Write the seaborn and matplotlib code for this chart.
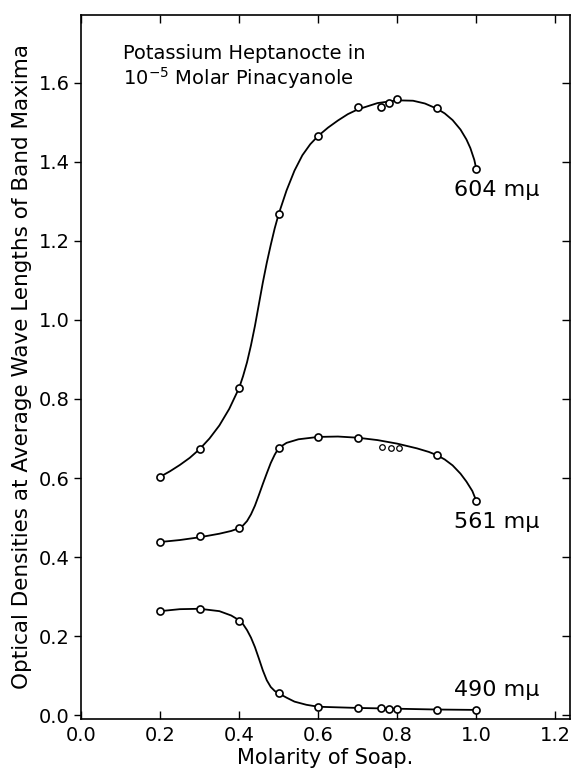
import matplotlib
matplotlib.use("Agg")
import matplotlib.pyplot as plt
import seaborn as sns
import pandas as pd

x_pts = [0.2, 0.3, 0.4, 0.5, 0.6, 0.7, 0.76, 0.78, 0.8, 0.9, 1.0]
y604_pts = [0.603, 0.673, 0.828, 1.268, 1.466, 1.540, 1.540, 1.549, 1.559, 1.537, 1.382]
x561_pts = [0.2, 0.3, 0.4, 0.5, 0.6, 0.7, 0.9, 1.0]
y561_pts = [0.438, 0.453, 0.473, 0.676, 0.704, 0.701, 0.658, 0.542]
x561_off = [0.761, 0.784, 0.805]
y561_off = [0.678, 0.677, 0.676]
y490_pts = [0.263, 0.268, 0.238, 0.056, 0.020, 0.018, 0.017, 0.016, 0.015, 0.014, 0.013]

# --- hand-drawn smooth curves ---
x604_curve = [0.20, 0.225, 0.25, 0.275, 0.30, 0.325, 0.35, 0.375, 0.40, 0.41, 0.42, 0.43,
              0.44, 0.45, 0.46, 0.47, 0.48, 0.49, 0.50, 0.52, 0.54, 0.56, 0.58, 0.60,
              0.625, 0.65, 0.675, 0.70, 0.75, 0.80, 0.84, 0.87, 0.90, 0.92, 0.94, 0.96,
              0.975, 0.985, 0.995, 1.00]
y604_curve = [0.603, 0.617, 0.633, 0.651, 0.673, 0.700, 0.733, 0.775, 0.828, 0.858, 0.893,
              0.936, 0.985, 1.040, 1.095, 1.145, 1.190, 1.232, 1.268, 1.328, 1.378, 1.417,
              1.445, 1.466, 1.487, 1.505, 1.521, 1.533, 1.549, 1.556, 1.555, 1.548, 1.535,
              1.523, 1.506, 1.482, 1.457, 1.435, 1.405, 1.382]
x561_curve = [0.20, 0.25, 0.30, 0.35, 0.38, 0.40, 0.41, 0.42, 0.43, 0.44, 0.45, 0.46,
              0.47, 0.48, 0.49, 0.50, 0.52, 0.55, 0.60, 0.65, 0.70, 0.75, 0.80, 0.85,
              0.88, 0.90, 0.92, 0.94, 0.96, 0.975, 0.99, 1.00]
y561_curve = [0.438, 0.443, 0.450, 0.459, 0.466, 0.473, 0.480, 0.491, 0.508, 0.530, 0.557,
              0.585, 0.612, 0.638, 0.659, 0.676, 0.689, 0.698, 0.704, 0.705, 0.702, 0.696,
              0.687, 0.675, 0.666, 0.658, 0.647, 0.632, 0.611, 0.591, 0.567, 0.542]
x490_curve = [0.20, 0.25, 0.30, 0.35, 0.38, 0.40, 0.41, 0.42, 0.43, 0.44, 0.45, 0.46,
              0.47, 0.48, 0.49, 0.50, 0.52, 0.54, 0.57, 0.60, 0.70, 0.80, 0.90, 1.00]
y490_curve = [0.263, 0.268, 0.269, 0.263, 0.252, 0.240, 0.230, 0.215, 0.196, 0.172, 0.143,
              0.113, 0.088, 0.071, 0.061, 0.055, 0.044, 0.034, 0.026, 0.021, 0.018, 0.016,
              0.014, 0.013]

series_labels = ["604 m\u03bc", "561 m\u03bc", "490 m\u03bc"]
x_ticks = [0.0, 0.2, 0.4, 0.6, 0.8, 1.0, 1.2]
y_ticks = [0.0, 0.2, 0.4, 0.6, 0.8, 1.0, 1.2, 1.4, 1.6]
title_text = "Potassium Heptanocte in\n10$^{-5}$ Molar Pinacyanole"
x_label = "Molarity of Soap."
y_label = "Optical Densities at Average Wave Lengths of Band Maxima"

sns.set_theme(style="ticks")
plt.rcParams["font.family"] = ["DejaVu Sans"]
plt.rcParams["text.color"] = "black"
plt.rcParams["axes.labelcolor"] = "black"
plt.rcParams["xtick.color"] = "black"
plt.rcParams["ytick.color"] = "black"
plt.rcParams["lines.solid_joinstyle"] = "round"

fig = plt.figure(figsize=(5.75, 7.73), dpi=100)
ax = fig.add_axes([81 / 575, 1 - 719 / 773, (570 - 81) / 575, (719 - 15) / 773])

curves = pd.concat([
    pd.DataFrame({"x": x604_curve, "y": y604_curve, "s": series_labels[0]}),
    pd.DataFrame({"x": x561_curve, "y": y561_curve, "s": series_labels[1]}),
    pd.DataFrame({"x": x490_curve, "y": y490_curve, "s": series_labels[2]}),
])
pts = pd.concat([
    pd.DataFrame({"x": x_pts, "y": y604_pts, "s": series_labels[0]}),
    pd.DataFrame({"x": x561_pts, "y": y561_pts, "s": series_labels[1]}),
    pd.DataFrame({"x": x_pts, "y": y490_pts, "s": series_labels[2]}),
])
off = pd.DataFrame({"x": x561_off, "y": y561_off})

pal = {s: "black" for s in series_labels}
sns.lineplot(data=curves, x="x", y="y", hue="s", palette=pal, sort=False,
             estimator=None, linewidth=1.3, legend=False, ax=ax, zorder=2)
sns.scatterplot(data=pts, x="x", y="y", s=26, marker="o", facecolor="white",
                edgecolor="black", linewidth=1.2, legend=False, ax=ax, zorder=3)
sns.scatterplot(data=off, x="x", y="y", s=16, marker="o", facecolor="white",
                edgecolor="black", linewidth=0.9, legend=False, ax=ax, zorder=3)

ax.set_xlim(0.0, 1.237)
ax.set_ylim(-0.010, 1.772)
ax.set_xticks(x_ticks)
ax.set_yticks(y_ticks)
ax.set_xticklabels([f"{v:.1f}" for v in x_ticks])
ax.set_yticklabels([f"{v:.1f}" for v in y_ticks])
ax.tick_params(axis="x", direction="in", top=True, length=6, width=1.0,
               labelsize=14, pad=5)
ax.tick_params(axis="y", direction="out", length=5, width=1.0, labelsize=14, pad=3)
ax.tick_params(axis="y", which="major", right=True)
for t in ax.yaxis.get_major_ticks():
    t.tick2line.set_marker(matplotlib.lines.TICKLEFT)
    t.tick2line.set_markersize(6)
for sp in ax.spines.values():
    sp.set_linewidth(1.2)
    sp.set_color("black")

ax.set_xlabel(x_label, fontsize=15, labelpad=2)
ax.set_ylabel(y_label, fontsize=15.5, labelpad=5)

ax.text(0.944, 1.33, series_labels[0], fontsize=16, va="center", ha="left")
ax.text(0.944, 0.489, series_labels[1], fontsize=16, va="center", ha="left")
ax.text(0.944, 0.063, series_labels[2], fontsize=16, va="center", ha="left")
ax.text(0.106, 1.64, title_text, fontsize=14, va="center", ha="left",
        linespacing=1.1)

fig.savefig("out.png", dpi=100)
